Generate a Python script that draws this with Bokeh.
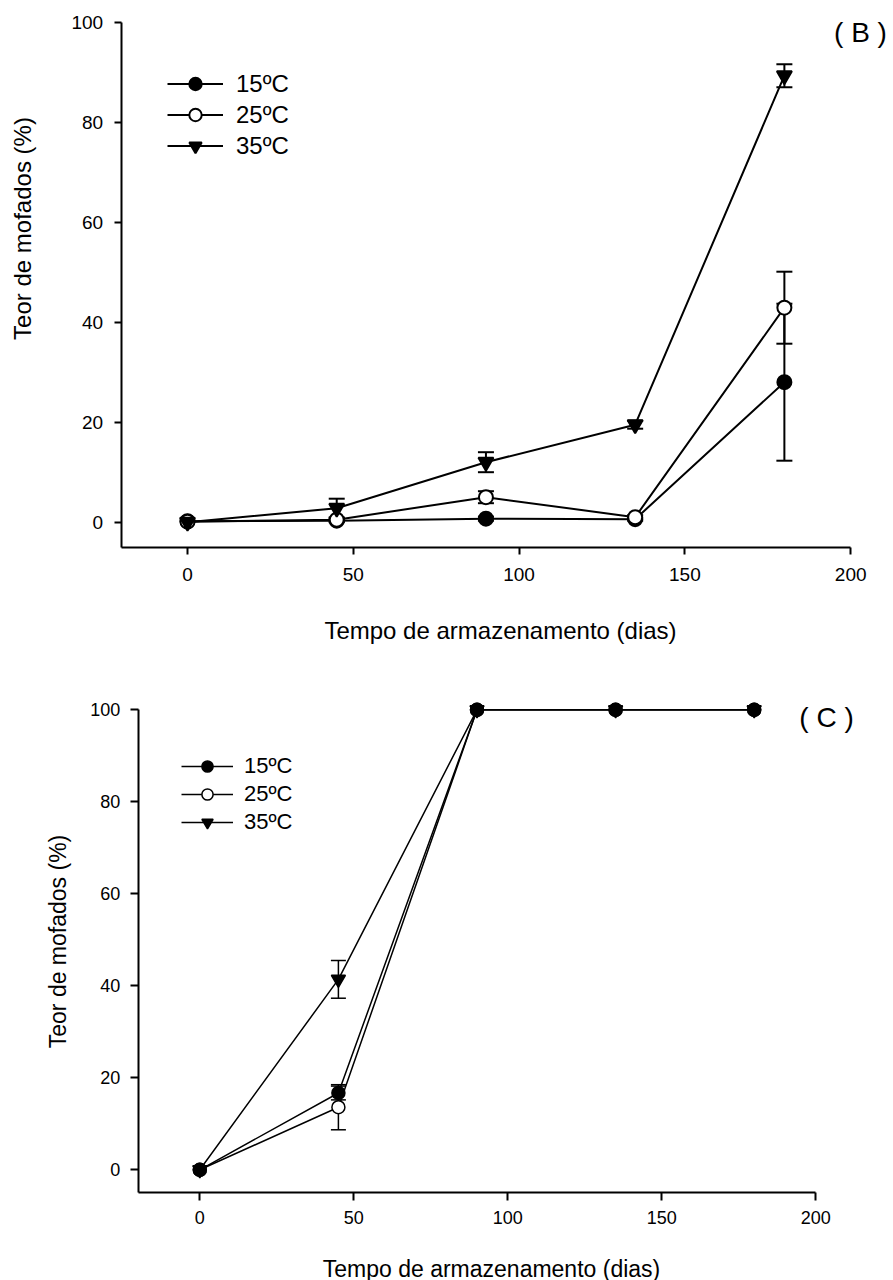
from bokeh.plotting import figure
from bokeh.models import (ColumnDataSource, Whisker, TeeHead, Legend, LegendItem,
                          Label, FixedTicker, Range1d)
from bokeh.layouts import column
from bokeh.embed import file_html
from bokeh.resources import INLINE

FONT = "Liberation Sans"
W = 893

# ---------------- data ----------------
days = [0, 45, 90, 135, 180]
series_labels = ["15ºC", "25ºC", "35ºC"]
x_ticks = [0, 50, 100, 150, 200]
y_ticks = [0, 20, 40, 60, 80, 100]
x_title = "Tempo de armazenamento (dias)"
y_title = "Teor de mofados (%)"

# Panel B
b_15 = [0.2, 0.3, 0.7, 0.6, 28.0]
b_15_err = [0.0, 0.3, 0.4, 0.3, 15.7]
b_25 = [0.1, 0.5, 5.0, 1.0, 42.9]
b_25_err = [0.0, 0.4, 1.2, 0.4, 7.2]
b_35 = [0.0, 2.8, 12.0, 19.5, 89.3]
b_35_err = [0.0, 1.9, 2.0, 0.8, 2.3]

# Panel C
c_15 = [0.0, 16.7, 100.0, 100.0, 100.0]
c_15_err = [0.0, 1.5, 0.0, 0.0, 0.0]
c_25 = [0.0, 13.6, 100.0, 100.0, 100.0]
c_25_err = [0.0, 4.9, 0.0, 0.0, 0.0]
c_35 = [0.0, 41.4, 100.0, 100.0, 100.0]
c_35_err = [0.0, 4.1, 0.0, 0.0, 0.0]


def add_series(p, x, y, err, marker, fill, lw, size, head):
    src = ColumnDataSource(dict(x=x, y=y))
    ln = p.line("x", "y", source=src, line_color="black", line_width=lw)
    ex = [xi for xi, e in zip(x, err) if e > 0]
    eu = [yi + e for yi, e in zip(y, err) if e > 0]
    el = [yi - e for yi, e in zip(y, err) if e > 0]
    esrc = ColumnDataSource(dict(x=ex, upper=eu, lower=el))
    w = Whisker(base="x", upper="upper", lower="lower", source=esrc,
                line_color="black", line_width=lw,
                upper_head=TeeHead(size=head, line_color="black", line_width=lw),
                lower_head=TeeHead(size=head, line_color="black", line_width=lw))
    p.add_layout(w)
    sc = p.scatter("x", "y", source=src, marker=marker, size=size,
                   fill_color=fill, line_color="black", line_width=lw)
    return ln, sc


def make_panel(series, order, g):
    H = g["H"]
    # ranges chosen so that the frame (whole canvas) maps data to the wanted pixels
    xr = Range1d(-g["ox"] / g["sx"], (W - g["ox"]) / g["sx"])
    yr = Range1d(-(H - g["oy"]) / g["sy"], g["oy"] / g["sy"])
    p = figure(width=W, height=H, output_backend="svg", toolbar_location=None,
               title=None, x_range=xr, y_range=yr,
               min_border=0, min_border_left=0, min_border_right=0,
               min_border_top=0, min_border_bottom=0,
               background_fill_color="white", border_fill_color="white")
    p.outline_line_color = None
    p.grid.grid_line_color = None
    for ax in (p.xaxis[0], p.yaxis[0]):
        ax.axis_line_color = "black"
        ax.axis_line_width = g["axw"]
        ax.major_tick_line_color = "black"
        ax.major_tick_line_width = g["axw"]
        ax.major_tick_in = 0
        ax.major_tick_out = g["tick"]
        ax.minor_tick_line_color = None
        ax.major_label_text_font = FONT
        ax.major_label_text_font_size = g["tickfs"]
        ax.major_label_text_color = "black"
    p.xaxis[0].ticker = FixedTicker(ticks=x_ticks)
    p.yaxis[0].ticker = FixedTicker(ticks=y_ticks)
    p.xaxis[0].bounds = (-20, 200)
    p.yaxis[0].bounds = (-5, 100)
    p.xaxis[0].fixed_location = -5
    p.yaxis[0].fixed_location = -20
    p.xaxis[0].major_label_standoff = g["xls"]
    p.yaxis[0].major_label_standoff = g["yls"]

    markers = ["circle", "circle", "inverted_triangle"]
    fills = ["black", "white", "black"]
    sizes = [g["msize"], g["msize"], g["tsize"]]
    rends = {}
    for i in order:
        y, err = series[i]
        rends[i] = add_series(p, days, y, err, markers[i], fills[i], g["lw"], sizes[i], g["head"])

    items = [LegendItem(label=series_labels[i], renderers=list(rends[i])) for i in range(3)]
    leg = Legend(items=items, location=g["legloc"], orientation="vertical",
                 glyph_width=g["gw"], glyph_height=g["gh"], spacing=0,
                 label_standoff=g["lstand"], label_text_font=FONT,
                 label_text_font_size=g["legfs"], label_text_color="black",
                 padding=0, margin=0, border_line_color=None,
                 background_fill_alpha=0)
    p.add_layout(leg)

    p.add_layout(Label(x=g["yt"][0], y=g["yt"][1], x_units="screen", y_units="screen",
                       text=y_title, angle=90, angle_units="deg", text_align="center",
                       text_baseline="middle", text_font=FONT, text_font_size=g["titlefs"],
                       text_color="black"))
    p.add_layout(Label(x=g["xt"][0], y=g["xt"][1], x_units="screen", y_units="screen",
                       text=x_title, text_align="center", text_baseline="middle",
                       text_font=FONT, text_font_size=g["titlefs"], text_color="black"))
    p.add_layout(Label(x=g["tag"][0], y=g["tag"][1], x_units="screen", y_units="screen",
                       text=g["tagtext"], text_align="center", text_baseline="middle",
                       text_font=FONT, text_font_size="28px", text_color="black"))
    return p


gB = dict(H=655, ox=187.0, oy=521.7, sx=3.316, sy=5.0, axw=2, tick=7,
          tickfs="19px", xls=14, yls=11, lw=2, msize=14, tsize=15, head=16,
          legloc=(167, 494), gw=56, gh=31, lstand=13, legfs="24px",
          yt=(22, 427), xt=(500, 25), tag=(860, 623), tagtext="( B )", titlefs="24px")
gC = dict(H=625, ox=199.3, oy=514.3, sx=3.08, sy=4.6, axw=2, tick=8,
          tickfs="18px", xls=10, yls=10, lw=1.5, msize=13, tsize=14, head=15,
          legloc=(181, 444), gw=52, gh=28, lstand=11, legfs="22px",
          yt=(57, 339), xt=(491, 12), tag=(826, 563), tagtext="( C )", titlefs="23px")

pB = make_panel([(b_15, b_15_err), (b_25, b_25_err), (b_35, b_35_err)], [0, 1, 2], gB)
pC = make_panel([(c_15, c_15_err), (c_25, c_25_err), (c_35, c_35_err)], [1, 2, 0], gC)

layout = column(pB, pC, spacing=0)
open("out.html", "w").write(file_html(layout, INLINE))
